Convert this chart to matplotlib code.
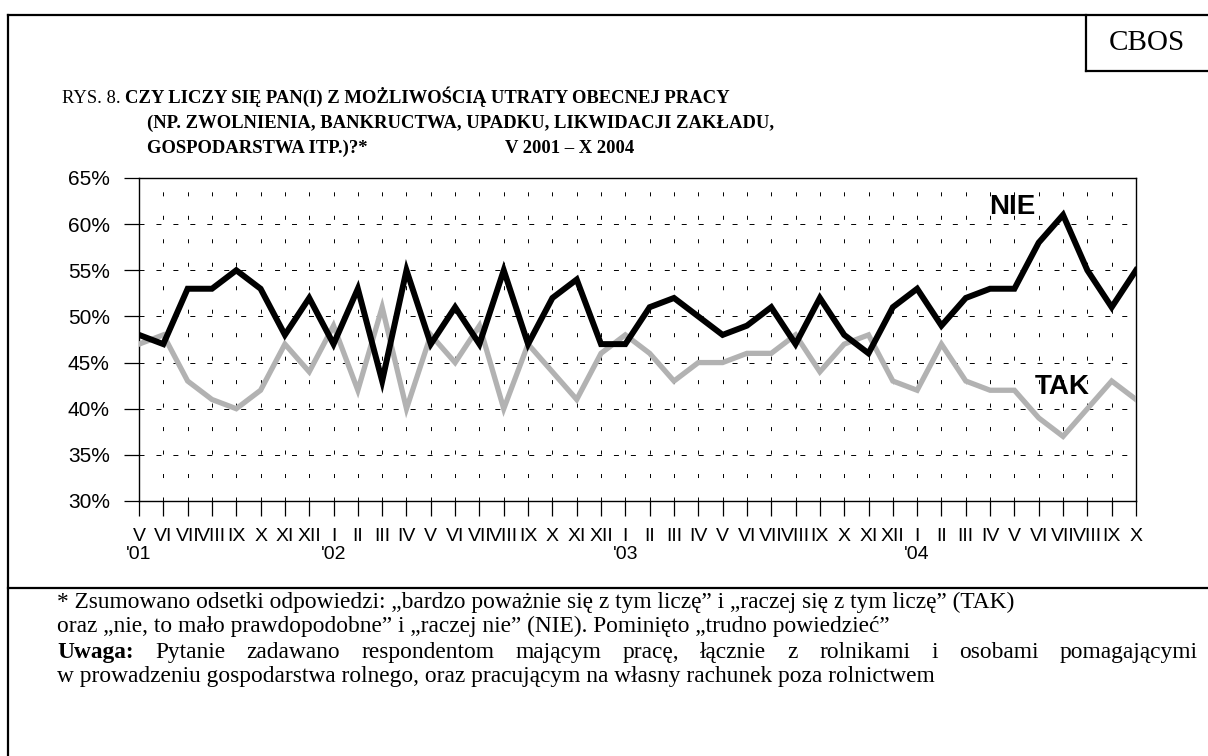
#!/usr/bin/python3

import matplotlib
matplotlib.use("Agg")
import matplotlib.pyplot as plt
from matplotlib.lines import Line2D

W, H = 1208, 756
SANS = "Liberation Sans"
SERIF = "Liberation Serif"

months = ["V", "VI", "VII", "VIII", "IX", "X", "XI", "XII", "I", "II", "III", "IV",
          "V", "VI", "VII", "VIII", "IX", "X", "XI", "XII", "I", "II", "III", "IV",
          "V", "VI", "VII", "VIII", "IX", "X", "XI", "XII", "I", "II", "III", "IV",
          "V", "VI", "VII", "VIII", "IX", "X"]
years = {0: "'01", 8: "'02", 20: "'03", 32: "'04"}

nie = [48, 47, 53, 53, 55, 53, 48, 52, 47, 53, 43, 55, 47, 51, 47, 55, 47, 52, 54, 47, 47,
       51, 52, 50, 48, 49, 51, 47, 52, 48, 46, 51, 53, 49, 52, 53, 53, 58, 61, 55, 51, 55]
tak = [47, 48, 43, 41, 40, 42, 47, 44, 49, 42, 51, 40, 48, 45, 49, 40, 47, 44, 41, 46, 48,
       46, 43, 45, 45, 46, 46, 48, 44, 47, 48, 43, 42, 47, 43, 42, 42, 39, 37, 40, 43, 41]

y_ticks = [30, 35, 40, 45, 50, 55, 60, 65]


def line(fig, x0, y0, x1, y1, lw=1.6):
    # pixel coords, origin top-left
    fig.add_artist(Line2D([x0 / W, x1 / W], [1 - y0 / H, 1 - y1 / H],
                          transform=fig.transFigure, color="black", lw=lw))


def run(fig, x, y, parts, size):
    # regular/bold pieces written one after another on the same baseline
    renderer = fig.canvas.get_renderer()
    for s, weight in parts:
        t = fig.text(x / W, 1 - y / H, s, fontsize=size, family=SERIF,
                     weight=weight, va="baseline")
        x += t.get_window_extent(renderer).width


def justified(fig, x0, x1, y, words, size):
    renderer = fig.canvas.get_renderer()
    items = []
    for s, weight in words:
        t = fig.text(0, 1 - y / H, s, fontsize=size, family=SERIF,
                     weight=weight, va="baseline")
        items.append((t, t.get_window_extent(renderer).width))
    gap = (x1 - x0 - sum(w for _, w in items)) / (len(items) - 1)
    x = x0
    for t, w in items:
        t.set_x(x / W)
        x += w + gap


def main():
    plt.rcParams["lines.scale_dashes"] = False

    fig = plt.figure(figsize=(W / 100, H / 100), dpi=100)
    ax = fig.add_axes([139 / W, 1 - 501 / H, (1136 - 139) / W, (501 - 178) / H])

    xs = list(range(len(months)))
    ax.plot(xs, tak, color="#b2b2b2", lw=3.8, solid_joinstyle="miter", zorder=3)
    ax.plot(xs, nie, color="black", lw=4.3, solid_joinstyle="miter", zorder=4)

    ax.set_xlim(0, len(months) - 1)
    ax.set_ylim(30, 65)

    ax.set_yticks(y_ticks)
    ax.set_yticklabels([f"{v}%" for v in y_ticks], family=SANS, fontsize=15)
    ax.set_xticks(xs)
    labels = ax.set_xticklabels(
        [m + ("\n" + years[i] if i in years else "") for i, m in enumerate(months)],
        family=SANS, fontsize=14)
    for lbl in labels:
        lbl.set_linespacing(1.05)

    ax.tick_params(axis="both", direction="out", length=11, width=0.9, color="black")
    ax.tick_params(axis="y", pad=10)
    ax.tick_params(axis="x", pad=8.5)
    for sp in ax.spines.values():
        sp.set_linewidth(1.0)

    ax.grid(axis="y", color="black", lw=0.7, linestyle=(0, (3.6, 8.6)))
    ax.grid(axis="x", color="black", lw=0.7, linestyle=(0, (2.9, 14)))
    ax.set_axisbelow(True)

    ax.text(35.9, 61.9, "NIE", family=SANS, weight="bold", fontsize=20,
            ha="center", va="center")
    ax.text(37.95, 42.4, "TAK", family=SANS, weight="bold", fontsize=20,
            ha="center", va="center")

    # frame around the page
    line(fig, 8, 15, W, 15)
    line(fig, 8, 15, 8, H)
    line(fig, 8, 588, W, 588)
    line(fig, 1086, 15, 1086, 71)
    line(fig, 1086, 71, W, 71)
    fig.text(1147 / W, 1 - 43 / H, "CBOS", family=SERIF, fontsize=21,
             ha="center", va="center")

    # title
    ts = 13.4
    run(fig, 62, 103, [("RYS. 8. ", "normal"),
                       ("CZY LICZY SIĘ PAN(I) Z MOŻLIWOŚCIĄ UTRATY OBECNEJ PRACY", "bold")], ts)
    run(fig, 147, 128, [("(NP. ZWOLNIENIA, BANKRUCTWA, UPADKU, LIKWIDACJI ZAKŁADU,", "bold")], ts)
    run(fig, 147, 153, [("GOSPODARSTWA ITP.)?*", "bold")], ts)
    run(fig, 505, 153, [("V 2001 – X 2004", "bold")], ts)

    # footnotes
    fs = 16.8
    run(fig, 57, 608, [("* Zsumowano odsetki odpowiedzi: „bardzo poważnie się z tym liczę” i "
                        "„raczej się z tym liczę” (TAK)", "normal")], fs)
    run(fig, 57, 632, [("oraz „nie, to mało prawdopodobne” i „raczej nie” (NIE). "
                        "Pominięto „trudno powiedzieć”", "normal")], fs)
    words = [("Uwaga:", "bold")] + [(w, "normal") for w in
             "Pytanie zadawano respondentom mającym pracę, łącznie z rolnikami i osobami pomagającymi".split()]
    justified(fig, 57, 1198, 658, words, fs)
    run(fig, 57, 682, [("w prowadzeniu gospodarstwa rolnego, oraz pracującym na własny "
                        "rachunek poza rolnictwem", "normal")], fs)

    fig.savefig("out.png", dpi=100)
    plt.close(fig)
    return 0


if __name__ == "__main__":
    exit(main())
